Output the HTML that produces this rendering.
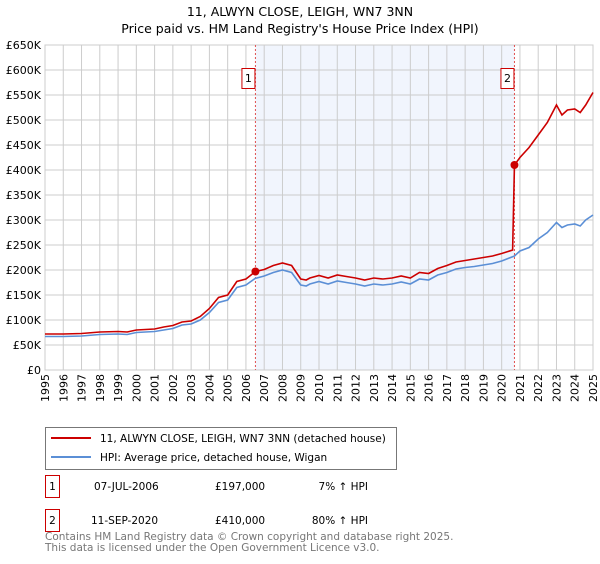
<!DOCTYPE html>
<html><head><meta charset="utf-8"><style>
body{margin:0;background:#fff;font-family:"DejaVu Sans","Liberation Sans",sans-serif;}
svg text{font-family:"DejaVu Sans","Liberation Sans",sans-serif;}
</style></head><body>
<svg id="c" width="600" height="560" viewBox="0 0 600 560" xmlns="http://www.w3.org/2000/svg">
<text x="300" y="16" text-anchor="middle" font-size="12.5" fill="#000">11, ALWYN CLOSE, LEIGH, WN7 3NN</text>
<text x="300" y="33" text-anchor="middle" font-size="12.5" fill="#000">Price paid vs. HM Land Registry's House Price Index (HPI)</text>
<g id="plot"></g>
<g>
<rect x="45.5" y="427.5" width="351" height="42" fill="#fff" stroke="#777"/>
<line x1="51" y1="438" x2="91" y2="438" stroke="#cc0000" stroke-width="2"/>
<text x="100" y="442" font-size="10.5">11, ALWYN CLOSE, LEIGH, WN7 3NN (detached house)</text>
<line x1="51" y1="457" x2="91" y2="457" stroke="#5b8fd6" stroke-width="2"/>
<text x="100" y="461" font-size="10.5">HPI: Average price, detached house, Wigan</text>
</g>
<g font-size="10.5">
<rect x="45.5" y="475.5" width="14" height="22" fill="#fff" stroke="#cc0000"/>
<text x="52.5" y="490" text-anchor="middle">1</text>
<text x="94" y="490">07-JUL-2006</text>
<text x="215" y="490">£197,000</text>
<text x="368" y="490" text-anchor="end">7% ↑ HPI</text>
<rect x="45.5" y="509.5" width="14" height="22" fill="#fff" stroke="#cc0000"/>
<text x="52.5" y="524" text-anchor="middle">2</text>
<text x="91" y="524">11-SEP-2020</text>
<text x="215" y="524">£410,000</text>
<text x="368" y="524" text-anchor="end">80% ↑ HPI</text>
</g>
<text x="45" y="540" font-size="10.5" fill="#777">Contains HM Land Registry data © Crown copyright and database right 2025.</text>
<text x="45" y="551" font-size="10.5" fill="#777">This data is licensed under the Open Government Licence v3.0.</text>
</svg>
<script>
const hpiYears=[1995,1996,1997,1998,1999,1999.5,2000,2001,2001.5,2002,2002.5,2003,2003.5,2004,2004.5,2005,2005.5,2006,2006.5,2007,2007.5,2008,2008.5,2009,2009.3,2009.5,2010,2010.5,2011,2011.5,2012,2012.5,2013,2013.5,2014,2014.5,2015,2015.5,2016,2016.5,2017,2017.5,2018,2018.5,2019,2019.5,2020,2020.7,2021,2021.5,2022,2022.5,2023,2023.3,2023.6,2024,2024.3,2024.6,2025];
const hpiValues=[67,67,68,71,72,71,75,77,80,83,90,92,100,115,135,140,165,170,183,188,195,200,195,170,168,172,177,172,178,175,172,168,172,170,172,176,172,182,180,190,195,202,205,207,210,213,218,228,238,245,262,275,295,285,290,292,288,300,310];
const redYears=[1995,1996,1997,1998,1999,1999.5,2000,2001,2001.5,2002,2002.5,2003,2003.5,2004,2004.5,2005,2005.5,2006,2006.52,2007,2007.5,2008,2008.5,2009,2009.3,2009.5,2010,2010.5,2011,2011.5,2012,2012.5,2013,2013.5,2014,2014.5,2015,2015.5,2016,2016.5,2017,2017.5,2018,2018.5,2019,2019.5,2020,2020.6,2020.7,2021,2021.5,2022,2022.5,2023,2023.3,2023.6,2024,2024.3,2024.6,2025];
const redValues=[72,72,73,76,77,76,80,82,86,89,96,98,107,123,145,150,177,182,197,201,209,214,209,182,180,184,189,184,190,187,184,180,184,182,184,188,184,195,193,203,209,216,219,222,225,228,233,240,410,425,445,470,495,530,510,520,522,515,530,555];
const saleYears=[2006.52,2020.7];
const saleValues=[197,410];
const saleLabels=["1","2"];
const yTicks=[0,50,100,150,200,250,300,350,400,450,500,550,600,650];
const xTicks=[1995,1996,1997,1998,1999,2000,2001,2002,2003,2004,2005,2006,2007,2008,2009,2010,2011,2012,2013,2014,2015,2016,2017,2018,2019,2020,2021,2022,2023,2024,2025];
const X0=45,X1=593,Y0=370,Y1=45;
const xs=y=>X0+(y-1995)/30*(X1-X0);
const ys=v=>Y0-v/650*(Y0-Y1);
const NS="http://www.w3.org/2000/svg";
const g=document.getElementById('plot');
function mk(t,a){const e=document.createElementNS(NS,t);for(const k in a)e.setAttribute(k,a[k]);g.appendChild(e);return e;}
let e=mk('rect',{x:xs(saleYears[0]),y:Y1,width:xs(saleYears[1])-xs(saleYears[0]),height:Y0-Y1,fill:'#eef3fc',opacity:0.8});


xTicks.forEach(t=>{
 let l=mk('line',{x1:xs(t),x2:xs(t),y1:Y1,y2:Y0,stroke:'#ccc'});
 
 
 const tx0=xs(t)+4,ty0=Y0+4;
 let tx=mk('text',{x:tx0,y:ty0,'font-size':11,'text-anchor':'end',transform:'rotate(-90 '+tx0+' '+ty0+')'});
 tx.textContent=t;
 
 
});
yTicks.forEach(t=>{
 let l=mk('line',{x1:X0,x2:X1,y1:ys(t),y2:ys(t),stroke:'#ccc'});
 
 
 let tx=mk('text',{x:X0-4,y:ys(t)+4,'font-size':11,'text-anchor':'end'});
 tx.textContent=t===0?'£0':'£'+t+'K';
 
 
});
e=mk('rect',{x:X0,y:Y1,width:X1-X0,height:Y0-Y1,fill:'none',stroke:'#ccc'});


saleYears.forEach((s,i)=>{
 let l=mk('line',{x1:xs(s),x2:xs(s),y1:Y1,y2:Y0,stroke:'#e05050','stroke-dasharray':'2,2'});
 
 
 let r=mk('rect',{x:xs(s)-13.5,y:68.5,width:13,height:20,fill:'#fff',stroke:'#cc0000'});
 
 
 let t=mk('text',{x:xs(s)-7,y:82,'font-size':11,'text-anchor':'middle'});
 t.textContent=saleLabels[i];
 
 
});
let hp=mk('polyline',{points:hpiYears.map((y,i)=>xs(y)+','+ys(hpiValues[i])).join(' '),fill:'none',stroke:'#5b8fd6','stroke-width':1.6});


let rp=mk('polyline',{points:redYears.map((y,i)=>xs(y)+','+ys(redValues[i])).join(' '),fill:'none',stroke:'#cc0000','stroke-width':1.6});


saleYears.forEach((s,i)=>{
 let c=mk('circle',{cx:xs(s),cy:ys(saleValues[i]),r:4,fill:'#cc0000'});
 
 
});
</script>
</body></html>
